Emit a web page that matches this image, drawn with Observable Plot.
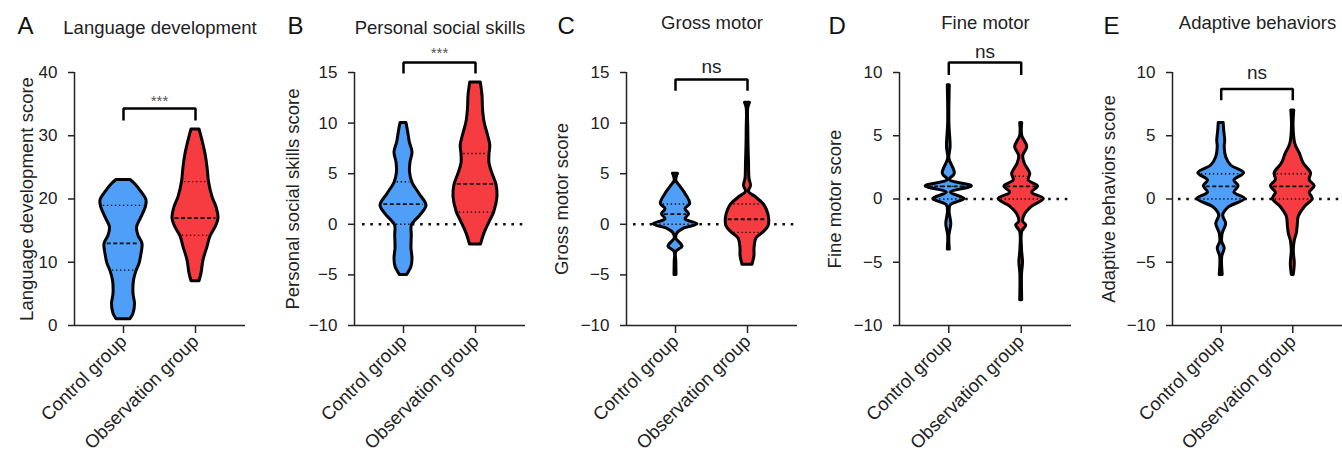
<!DOCTYPE html>
<html><head><meta charset="utf-8">
<script src="https://cdn.jsdelivr.net/npm/d3@7"></script>
<script src="https://cdn.jsdelivr.net/npm/@observablehq/plot@0.6"></script>
<style>
body{margin:0;background:#fff;}
#wrap{position:relative;width:1342px;height:460px;overflow:hidden;background:#fff;}
#wrap svg{position:absolute;top:0;}
</style></head><body><div id="wrap"></div>
<script>
// ---------- data ----------
const groups = ["Control group", "Observation group"];
const panelLetters = ["A", "B", "C", "D", "E"];
const panelTitles = ["Language development", "Personal social skills", "Gross motor", "Fine motor", "Adaptive behaviors"];
const yLabels = ["Language development score", "Personal social skills score", "Gross motor score", "Fine motor score", "Adaptive behaviors score"];
const yDomains = [[0, 40], [-10, 15], [-10, 15], [-10, 10], [-10, 10]];
const yTicks = [[0, 10, 20, 30, 40], [-10, -5, 0, 5, 10, 15], [-10, -5, 0, 5, 10, 15], [-10, -5, 0, 5, 10], [-10, -5, 0, 5, 10]];
const sigLabels = ["***", "***", "ns", "ns", "ns"];
const sigBracketTop = [34.3, 16.0, 14.3, 10.8, 8.7];
const sigBracketFoot = [32.4, 14.9, 13.2, 9.8, 7.8];
const sigTextY = [35.4, 16.9, 15.6, 11.65, 10.0];
const zeroLine = [false, true, true, true, true];

// violin profiles: [score, density (half-width)]
const langControl = [[23,7],[22.3,12],[21.1,18],[19.8,23],[18.8,22.5],[17.1,18],[15.5,13.5],[14.2,15],[12.9,19],[11.3,18],[9.75,16],[8.6,13],[7.1,10.5],[5.0,10],[3.4,11.5],[1.85,10],[1,7]];
const langObs = [[31,4],[29.2,7],[27.1,10],[25,12],[22.7,13.5],[20.3,17],[18.7,21],[16.9,23],[15.5,20],[14.1,15],[12.4,12],[10.3,8],[8.2,6],[7,4]];
const socialControl = [[10,3],[9.1,4.7],[8.1,6.3],[7.1,9],[6.1,7],[5.15,6.5],[4.1,9],[3.0,16],[1.85,23],[1.0,18],[-0.1,8.5],[-1.1,8.3],[-2.4,8],[-3.4,9],[-4.2,8],[-5,3.7]];
const socialObs = [[14,5.3],[12.7,7],[11.4,7.5],[10.1,9],[8.8,12.5],[7.8,14.8],[6.9,14],[6.0,14],[5.0,17],[3.9,21],[2.7,22],[1.2,18.7],[0.2,14],[-0.9,9],[-2,5.5]];
const grossControl = [[5,2.5],[4.3,0.8],[3.7,5],[3.0,10],[2.0,14.7],[1.5,10],[1.0,13.5],[0.5,10],[0,22],[-0.45,8],[-0.9,2],[-1.4,0.8],[-2.2,7],[-2.75,0.8],[-3.7,0.8],[-5,1]];
const grossObs = [[12,2.5],[11.5,0.8],[9.4,0.8],[7.8,1],[6.1,1.5],[4.5,2],[3.8,3.5],[3.2,1.5],[2.7,8],[2.0,16],[1.4,19.5],[0.5,21.7],[-0.2,21],[-0.8,16],[-1.4,9],[-2.4,7],[-3.1,7],[-4,5]];
const fineControl = [[9,1],[6,0.6],[4.1,1.8],[3.2,0.6],[2.0,6],[1.5,1],[1.0,23],[0.5,2],[0,15.5],[-0.5,2],[-1.0,0.8],[-2.0,2.5],[-2.9,0.6],[-4,1]];
const fineObs = [[6,1],[5,1],[4.1,6],[3.4,2],[2.8,3.5],[2.0,9],[1.46,7.5],[1.0,16.7],[0.5,11],[0,22.5],[-0.6,11],[-1.2,4],[-1.8,2],[-2.1,5],[-2.6,1],[-4,0.8],[-5,1.8],[-6,0.8],[-8,1]];
const adaptControl = [[6,2.5],[5.4,3],[4.6,4],[4.1,3.5],[3.3,5],[2.65,10],[2.04,23],[1.46,13.3],[1.0,17.5],[0.5,13.3],[0,24],[-0.65,8],[-1.3,2],[-1.96,5],[-2.75,1.5],[-3.4,1],[-3.9,3.5],[-4.6,1],[-6,1.5]];
const adaptObs = [[7,1.5],[5.7,0.8],[4.36,2.5],[3.6,7],[2.8,11],[2.04,18.3],[1.5,17],[1.0,22],[0.5,17],[0,20],[-0.65,12],[-1.4,6],[-2.1,5],[-2.75,4],[-3.3,2],[-4.1,1],[-5.1,2],[-6,1]];

// quartiles [Q1, median, Q3]
const langControlQ = [8.75, 13, 19];
const langObsQ = [14.25, 17, 22.75];
const socialControlQ = [0, 2, 4.2];
const socialObsQ = [1.2, 4, 7];
const grossControlQ = [0, 1, 2];
const grossObsQ = [-0.8, 0.5, 2];
const fineControlQ = [0, 1, 1];
const fineObsQ = [0, 1, 1.8];
const adaptControlQ = [0, 1, 2];
const adaptObsQ = [0, 1, 2];

const violins = [[langControl, langObs], [socialControl, socialObs], [grossControl, grossObs], [fineControl, fineObs], [adaptControl, adaptObs]];
const violinQ = [[langControlQ, langObsQ], [socialControlQ, socialObsQ], [grossControlQ, grossObsQ], [fineControlQ, fineObsQ], [adaptControlQ, adaptObsQ]];

// ---------- layout / style ----------
const colors = ["#4f9ef8", "#f63c41"];
const FONT = "'Liberation Sans', Arial, Helvetica, sans-serif";
const PXU = 72; // px per category unit
const xDomain = [1 - 49 / PXU, 2 + 50 / PXU];
const layout = [
  {left: 0,    width: 270, mL: 74, mR: 25, letterDx: -57, labelDx: -47, titleDy: -44, zeroStart: 8},
  {left: 270,  width: 270, mL: 84, mR: 15, letterDx: -67, labelDx: -61, titleDy: -44, zeroStart: 8},
  {left: 540,  width: 270, mL: 86, mR: 13, letterDx: -69, labelDx: -64, titleDy: -49, zeroStart: 7},
  {left: 810,  width: 265, mL: 89, mR: 4,  letterDx: -71, labelDx: -64, titleDy: -49, zeroStart: 8},
  {left: 1075, width: 267, mL: 97, mR: 0,  letterDx: -69, labelDx: -64, titleDy: -49, zeroStart: 6}
];

function halfWidthAt(prof, q) {
  const pts = prof.slice().sort((a, b) => a[0] - b[0]);
  for (let k = 0; k < pts.length - 1; k++) {
    const [v0, w0] = pts[k], [v1, w1] = pts[k + 1];
    if (q >= v0 && q <= v1) return w0 + (w1 - w0) * (q - v0) / (v1 - v0 || 1);
  }
  return pts[0][1];
}

function panel(i) {
  const L = layout[i];
  const marks = [];
  if (zeroLine[i]) {
    marks.push(Plot.ruleY([0], {x1: xDomain[0] + L.zeroStart / PXU, x2: xDomain[1], stroke: "#111", strokeWidth: 2.6, strokeDasharray: "2.6,5.7"}));
  }
  violins[i].forEach((prof, g) => {
    const pos = g + 1;
    const data = prof.map(([v, w]) => ({v, w}));
    marks.push(Plot.areaX(data, {
      y: "v", x1: d => pos - d.w / PXU, x2: d => pos + d.w / PXU,
      fill: colors[g], stroke: "#000", strokeWidth: 3, strokeLinejoin: "round", curve: "catmull-rom"
    }));
    const qs = violinQ[i][g].map((q, k) => ({q, k, hw: Math.max(0, halfWidthAt(prof, q) - 2.4)}));
    marks.push(Plot.ruleY(qs.filter(d => d.k !== 1), {y: "q", x1: d => pos - d.hw / PXU, x2: d => pos + d.hw / PXU, stroke: "#111", strokeWidth: 1.4, strokeDasharray: "1.4,2.6"}));
    marks.push(Plot.ruleY(qs.filter(d => d.k === 1), {y: "q", x1: d => pos - d.hw / PXU, x2: d => pos + d.hw / PXU, stroke: "#111", strokeWidth: 1.8, strokeDasharray: "4,2.5"}));
  });
  // significance bracket
  const br = [[1, sigBracketFoot[i]], [1, sigBracketTop[i]], [2, sigBracketTop[i]], [2, sigBracketFoot[i]]];
  marks.push(Plot.line(br, {x: d => d[0], y: d => d[1], stroke: "#000", strokeWidth: 2.5, strokeLinejoin: "miter", strokeLinecap: "butt"}));
  const isStar = sigLabels[i] === "***";
  marks.push(Plot.text([sigLabels[i]], {x: 1.5, y: sigTextY[i], text: d => d, fontSize: isStar ? 15 : 19, fill: isStar ? "#555" : "#222", lineAnchor: "middle"}));
  // axes lines
  marks.push(Plot.ruleX([xDomain[0]], {stroke: "#222", strokeWidth: 1.5}));
  marks.push(Plot.ruleY([yDomains[i][0]], {stroke: "#222", strokeWidth: 1.5}));
  marks.push(Plot.axisX({ticks: [1, 2], tickFormat: d => groups[d - 1], tickRotate: -45, tickSize: 8, tickPadding: 5, fontSize: 18.5, label: null, strokeWidth: 1.5}));
  marks.push(Plot.axisY({ticks: yTicks[i], tickSize: 6, tickPadding: 11, fontSize: 17, label: null, strokeWidth: 1.5}));
  // labels
  const yMid = (yDomains[i][0] + yDomains[i][1]) / 2;
  marks.push(Plot.text([yLabels[i]], {x: xDomain[0] + L.labelDx / PXU, y: yMid, rotate: -90, text: d => d, fontSize: 18.5, fill: "#222", textAnchor: "middle", lineAnchor: "middle"}));
  marks.push(Plot.text([panelTitles[i]], {frameAnchor: "top", lineAnchor: "middle", dy: L.titleDy, text: d => d, fontSize: 18.5, fill: "#222"}));
  marks.push(Plot.text([panelLetters[i]], {frameAnchor: "top-left", textAnchor: "start", lineAnchor: "middle", dx: L.letterDx, dy: -46, text: d => d, fontSize: 24, fill: "#111"}));

  const svg = Plot.plot({
    width: L.width, height: 460,
    marginLeft: L.mL, marginRight: L.mR, marginTop: 72, marginBottom: 135,
    x: {domain: xDomain},
    y: {domain: yDomains[i]},
    style: {fontFamily: FONT, color: "#222", background: "transparent", overflow: "visible"},
    marks
  });
  svg.style.left = L.left + "px";
  return svg;
}

const wrap = document.getElementById("wrap");
for (let i = 0; i < 5; i++) wrap.appendChild(panel(i));
</script>
</body></html>
